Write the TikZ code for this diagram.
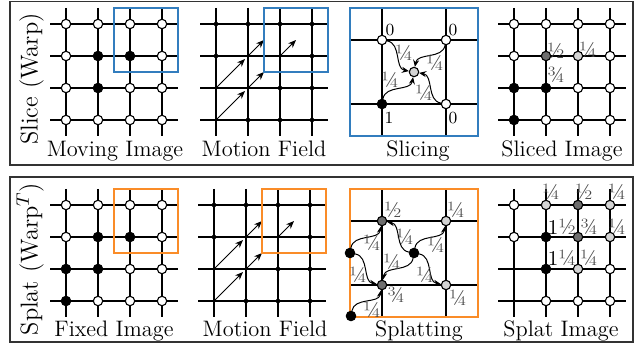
\documentclass[tikz,border=0pt]{standalone}
\usetikzlibrary{arrows.meta}
\definecolor{myblue}{RGB}{50,125,190}
\definecolor{myorange}{RGB}{250,140,40}
\definecolor{dgray}{RGB}{110,110,110}
\definecolor{lgray}{RGB}{212,212,212}
\definecolor{labgray}{RGB}{70,70,70}
\begin{document}
\begin{tikzpicture}[x=0.5pt,y=0.5pt,
  gridl/.style={line width=0.65pt},
  pix/.style={circle,draw,line width=0.55pt,minimum size=4.7pt,inner sep=0pt},
  wp/.style={pix,fill=white}, bp/.style={pix,fill=black},
  dp/.style={pix,fill=dgray}, lp/.style={pix,fill=lgray},
  mdot/.style={circle,fill,minimum size=2.3pt,inner sep=0pt},
  mvec/.style={-{Stealth[length=4pt,width=3.2pt]},line width=0.5pt},
  wav/.style={-{Stealth[length=3.5pt,width=3pt]},line width=0.5pt},
  frac/.style={font=\fontsize{11}{12}\selectfont,text=labgray,inner sep=0pt},
  cnum/.style={font=\fontsize{8.5}{9}\selectfont,inner sep=0pt},
  capt/.style={font=\fontsize{11.2}{13}\selectfont,anchor=base,inner sep=0pt},
  sidelab/.style={font=\fontsize{12.2}{14}\selectfont,rotate=90,anchor=base,inner sep=0pt},
  panelframe/.style={line width=0.7pt,draw=black!80},
  hbox/.style={line width=0.7pt}]
\useasboundingbox (0,0) rectangle (641,348);
% frames
\draw[panelframe] (10,346.5) rectangle (633,183);
\draw[panelframe] (10,171) rectangle (633,6);
\node[sidelab] (s1) at (37.5,269) {Slice (Warp)};
\node[sidelab] (s2) at (37.5,89) {Splat (Warp$^T$)};
% ===== top row =====
% moving image
\foreach \i in {0,...,3}{
  \draw[gridl] (50,324-32*\i) -- (178,324-32*\i);
  \draw[gridl] (66+32*\i,340) -- (66+32*\i,212);}
\foreach \s [count=\k from 0] in {wp,wp,wp,wp,wp,bp,bp,wp,wp,bp,wp,wp,wp,wp,wp,wp}{
  \pgfmathtruncatemacro\cc{mod(\k,4)}\pgfmathtruncatemacro\rr{\k/4}
  \node[\s] (mv\rr\cc) at (66+32*\cc,324-32*\rr) {};}
\draw[hbox,myblue] (114,340) rectangle (178,276);
\node[capt] (c1) at (115,191) {Moving Image};
% motion field
\foreach \i in {0,...,3}{
  \draw[gridl] (200,324-32*\i) -- (328,324-32*\i);
  \draw[gridl] (216+32*\i,340) -- (216+32*\i,212);}
\foreach \c/\r [count=\k] in {0/0,1/0,2/0,3/0,0/1,3/1,2/2,3/2,1/3,2/3,3/3}
  \node[mdot] (md\k) at (216+32*\c,324-32*\r) {};
\foreach \c/\r/\d [count=\k] in {0/3/29,0/2/29,1/2/16,1/1/16,2/1/16}{
  \coordinate (ms\k) at (216+32*\c,324-32*\r);
  \coordinate (me\k) at (216+32*\c+\d,324-32*\r+\d);
  \draw[mvec] (ms\k) -- (me\k);}
\draw[hbox,myblue] (264,340) rectangle (328,276);
\node[capt] (c2) at (264,191) {Motion Field};
% slicing
\draw[gridl] (382,340) -- (382,212);
\draw[gridl] (446,340) -- (446,212);
\draw[gridl] (350,308) -- (478,308);
\draw[gridl] (350,244) -- (478,244);
\draw[hbox,myblue] (350,340) rectangle (478,212);
\node[wp] (sTL) at (382,308) {};
\node[wp] (sTR) at (446,308) {};
\node[bp] (sBL) at (382,244) {};
\node[wp] (sBR) at (446,244) {};
\node[lp] (sC) at (414,276) {};
\draw[wav] (sTL) to[out=-10,in=170] (sC);
\draw[wav] (sTR) to[out=260,in=80] (sC);
\draw[wav] (sBR) to[out=170,in=-10] (sC);
\draw[wav] (sBL) to[out=80,in=260] (sC);
\node[cnum] (z1) at (390,318) {0};
\node[cnum] (z2) at (453,318) {0};
\node[cnum] (z3) at (389,230) {1};
\node[cnum] (z4) at (453,230) {0};
\node[frac] (f1) at (404,295) {¼};
\node[frac] (f2) at (435,285) {¼};
\node[frac] (f3) at (390,268) {¼};
\node[frac] (f4) at (424,255) {¼};
\node[capt] (c3) at (418,191) {Slicing};
% sliced image
\foreach \i in {0,...,3}{
  \draw[gridl] (498,324-32*\i) -- (626,324-32*\i);
  \draw[gridl] (514+32*\i,340) -- (514+32*\i,212);}
\foreach \s [count=\k from 0] in {wp,wp,wp,wp,wp,dp,lp,wp,bp,bp,wp,wp,bp,wp,wp,wp}{
  \pgfmathtruncatemacro\cc{mod(\k,4)}\pgfmathtruncatemacro\rr{\k/4}
  \node[\s] (sl\rr\cc) at (514+32*\cc,324-32*\rr) {};}
\node[frac] (g1) at (556,297) {½};
\node[frac] (g2) at (588,298) {¼};
\node[frac] (g3) at (556,273) {¾};
\node[capt] (c4) at (562,191) {Sliced Image};
% ===== bottom row =====
% fixed image
\foreach \i in {0,...,3}{
  \draw[gridl] (50,143-32*\i) -- (178,143-32*\i);
  \draw[gridl] (66+32*\i,159) -- (66+32*\i,31);}
\foreach \s [count=\k from 0] in {wp,wp,wp,wp,wp,bp,bp,wp,bp,bp,wp,wp,bp,wp,wp,wp}{
  \pgfmathtruncatemacro\cc{mod(\k,4)}\pgfmathtruncatemacro\rr{\k/4}
  \node[\s] (fx\rr\cc) at (66+32*\cc,143-32*\rr) {};}
\draw[hbox,myorange] (114,159) rectangle (178,95);
\node[capt] (c5) at (114,12) {Fixed Image};
% motion field
\foreach \i in {0,...,3}{
  \draw[gridl] (198,143-32*\i) -- (326,143-32*\i);
  \draw[gridl] (214+32*\i,159) -- (214+32*\i,31);}
\foreach \c/\r [count=\k] in {0/0,1/0,2/0,3/0,0/1,3/1,2/2,3/2,1/3,2/3,3/3}
  \node[mdot] (nd\k) at (214+32*\c,143-32*\r) {};
\foreach \c/\r/\d [count=\k] in {0/3/29,0/2/29,1/2/16,1/1/16,2/1/16}{
  \coordinate (ns\k) at (214+32*\c,143-32*\r);
  \coordinate (ne\k) at (214+32*\c+\d,143-32*\r+\d);
  \draw[mvec] (ns\k) -- (ne\k);}
\draw[hbox,myorange] (262,159) rectangle (326,95);
\node[capt] (c6) at (265,12) {Motion Field};
% splatting
\draw[gridl] (382,159) -- (382,31);
\draw[gridl] (446,159) -- (446,31);
\draw[gridl] (350,127) -- (478,127);
\draw[gridl] (350,63) -- (478,63);
\draw[hbox,myorange] (350,159) rectangle (478,31);
\node[dp] (pT1) at (382,127) {};
\node[lp] (pT2) at (446,127) {};
\node[dp] (pB1) at (382,63) {};
\node[lp] (pB2) at (446,63) {};
\node[bp] (pa) at (350,95) {};
\node[bp] (pb) at (414,95) {};
\node[bp] (pc) at (351,32) {};
\draw[wav] (pa) to[out=80,in=260] (pT1);
\draw[wav] (pa) to[out=-10,in=170] (pB1);
\draw[wav] (pb) to[out=170,in=-10] (pT1);
\draw[wav] (pb) to[out=80,in=260] (pT2);
\draw[wav] (pb) to[out=260,in=80] (pB1);
\draw[wav] (pb) to[out=-10,in=170] (pB2);
\draw[wav] (pc) to[out=80,in=260] (pB1);
\node[frac] (h1) at (372,105) {¼};
\node[frac] (h2) at (358,73) {¼};
\node[frac] (h3) at (405,111) {¼};
\node[frac] (h4) at (392,86) {¼};
\node[frac] (h5) at (436,103) {¼};
\node[frac] (h6) at (425,73) {¼};
\node[frac] (h7) at (372,38) {¼};
\node[frac] (h8) at (393,138) {½};
\node[frac] (h9) at (456,138) {¼};
\node[frac] (h10) at (396,53) {¾};
\node[frac] (h11) at (458,50) {¼};
\node[capt] (c7) at (419,12) {Splatting};
% splat image
\foreach \i in {0,...,3}{
  \draw[gridl] (498,143-32*\i) -- (626,143-32*\i);
  \draw[gridl] (514+32*\i,159) -- (514+32*\i,31);}
\foreach \c/\r/\s in {0/0/wp,1/0/lp,2/0/dp,3/0/lp,0/1/wp,1/1/bp,2/1/dp,3/1/lp,1/2/bp,2/2/lp,3/2/wp,1/3/wp,2/3/wp,3/3/wp}
  \node[\s] (sp\r\c) at (514+32*\c,143-32*\r) {};
\node[frac] (k1) at (551,156) {¼};
\node[frac] (k2) at (584,156) {½};
\node[frac] (k3) at (617,156) {¼};
\node[frac] (k4) at (562,121) {{\color{black}\fontsize{10.5}{11}\selectfont 1}½};
\node[frac] (k5) at (589,121) {¾};
\node[frac] (k6) at (617,121) {¼};
\node[frac] (k7) at (562,90) {{\color{black}\fontsize{10.5}{11}\selectfont 1}¼};
\node[frac] (k8) at (589,90) {¼};
\node[capt] (c8) at (561,12) {Splat Image};
\end{tikzpicture}
\end{document}
